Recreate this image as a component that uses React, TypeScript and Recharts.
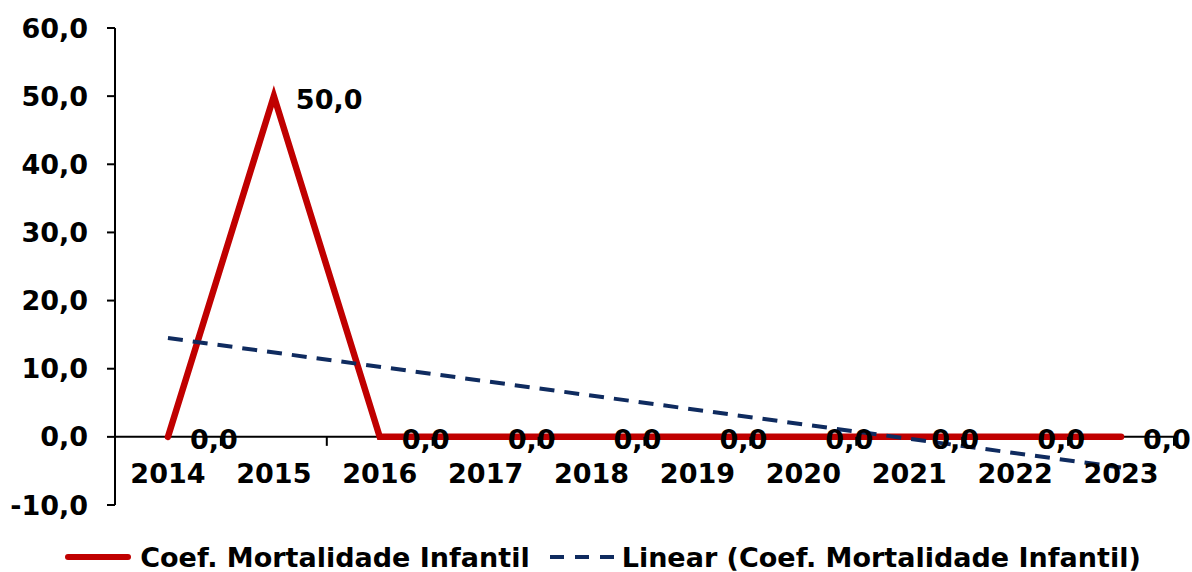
import React from 'react';
import { ComposedChart, Line, XAxis, YAxis, ReferenceLine, Legend, LabelList } from 'recharts';

const years = ['2014', '2015', '2016', '2017', '2018', '2019', '2020', '2021', '2022', '2023'];
const coefMortalidade = [0, 50, 0, 0, 0, 0, 0, 0, 0, 0];
// trend line: only the two ends are drawn, straight between them
const tendencia = [14.5, null, null, null, null, null, null, null, null, -4.5];
const yTicks = [-10, 0, 10, 20, 30, 40, 50, 60];

const data = years.map((ano, i) => ({ ano, coef: coefMortalidade[i], linear: tendencia[i] }));

const W = 1192;
const H = 572;
const MARGIN = { top: 28, right: 18, left: 0, bottom: 0 };
const Y_AXIS_W = 115;
const X_AXIS_H = 37;
const LEGEND_H = 30;
const PLOT_H = H - MARGIN.top - X_AXIS_H - LEGEND_H;
const PLOT_W = W - MARGIN.left - MARGIN.right - Y_AXIS_W;
const BAND = PLOT_W / years.length;
const Y_MIN = -10;
const Y_MAX = 60;
const ZERO_Y = MARGIN.top + (PLOT_H * Y_MAX) / (Y_MAX - Y_MIN);

const FONT = '"DejaVu Sans", Verdana, sans-serif';
const RED = '#C00000';
const NAVY = '#0F2B5F';

const fmt = (v: number) => v.toFixed(1).replace('.', ',');

// x labels sit under the zero line, tick marks between categories
const XTick = (props: any) => {
    const { x, payload } = props;
    return (
        <g>
            <line x1={x + BAND / 2} x2={x + BAND / 2} y1={ZERO_Y} y2={ZERO_Y + 9} stroke="#000" strokeWidth={2} />
            <text x={x} y={ZERO_Y + 46} textAnchor="middle" fontFamily={FONT} fontWeight="bold" fontSize={27} fill="#000">
                {payload.value}
            </text>
        </g>
    );
};

const ValueLabel = (props: any) => {
    const { x, y, value } = props;
    return (
        <text x={x + 22} y={y + 3} dominantBaseline="central" fontFamily={FONT} fontWeight="bold" fontSize={27} fill="#000">
            {fmt(value)}
        </text>
    );
};

const LegendBox = () => (
    <div style={{ display: 'flex', justifyContent: 'center', alignItems: 'center', height: LEGEND_H, fontFamily: FONT, fontWeight: 'bold', fontSize: 27, color: '#000', whiteSpace: 'nowrap', marginLeft: 32 }}>
        <svg width={66} height={10} style={{ marginRight: 9 }}>
            <line x1={3} x2={63} y1={5} y2={5} stroke={RED} strokeWidth={6} strokeLinecap="round" />
        </svg>
        <span>Coef. Mortalidade Infantil</span>
        <svg width={64} height={10} style={{ marginLeft: 20, marginRight: 8 }}>
            <line x1={0} x2={64} y1={5} y2={5} stroke={NAVY} strokeWidth={4} strokeDasharray="14 11" />
        </svg>
        <span>Linear (Coef. Mortalidade Infantil)</span>
    </div>
);

export default function App() {
    return (
        <div style={{ position: 'absolute', left: 0, top: 0, width: W, height: H, background: '#fff' }}>
            <ComposedChart width={W} height={H} data={data} margin={MARGIN}>
                <XAxis
                    dataKey="ano"
                    height={X_AXIS_H}
                    padding={{ left: BAND / 2, right: BAND / 2 }}
                    axisLine={false}
                    tickLine={false}
                    interval={0}
                    tick={<XTick />}
                />
                <YAxis
                    width={Y_AXIS_W}
                    domain={[Y_MIN, Y_MAX]}
                    ticks={yTicks}
                    tickFormatter={fmt}
                    tickSize={8}
                    tickMargin={19}
                    axisLine={{ stroke: '#000', strokeWidth: 2 }}
                    tickLine={{ stroke: '#000', strokeWidth: 2 }}
                    tick={{ fontFamily: FONT, fontWeight: 'bold', fontSize: 27, fill: '#000' }}
                />
                <ReferenceLine y={0} stroke="#000" strokeWidth={2} />
                <Line
                    type="linear"
                    dataKey="coef"
                    stroke={RED}
                    strokeWidth={6.5}
                    strokeLinecap="round"
                    strokeLinejoin="miter"
                    dot={false}
                    activeDot={false}
                    isAnimationActive={false}
                >
                    <LabelList dataKey="coef" content={<ValueLabel />} />
                </Line>
                <Line
                    type="linear"
                    dataKey="linear"
                    stroke={NAVY}
                    strokeWidth={4}
                    strokeDasharray="15 10"
                    connectNulls
                    dot={false}
                    activeDot={false}
                    isAnimationActive={false}
                />
                <Legend verticalAlign="bottom" height={LEGEND_H} content={<LegendBox />} wrapperStyle={{ height: LEGEND_H }} />
            </ComposedChart>
        </div>
    );
}
